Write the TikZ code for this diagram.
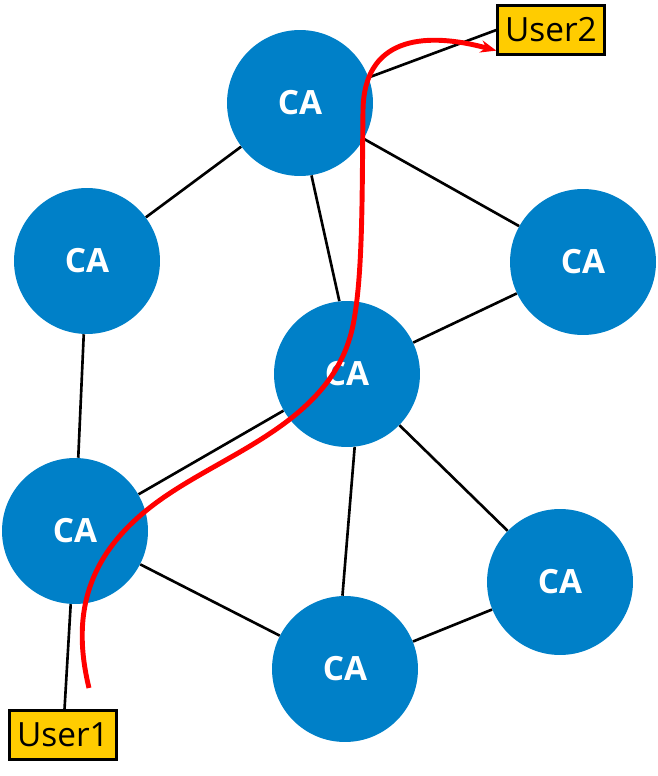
\documentclass[tikz,border=0pt]{standalone}
\usepackage{fontspec}
\setmainfont{Open Sans}
\usetikzlibrary{arrows.meta}
\definecolor{CABlue}{HTML}{0080C8}
\definecolor{UserGold}{HTML}{FFCC00}
\definecolor{PathRed}{HTML}{FF0000}

\begin{document}
\begin{tikzpicture}[
	x=0.02cm, y=-0.02cm,
	ca/.style={circle, fill=CABlue, text=white, font=\fontsize{19}{22}\selectfont\bfseries, minimum size=2.92cm, inner sep=0pt},
	user/.style={draw=black, fill=UserGold, line width=1.3pt, minimum width=2.14cm, minimum height=0.98cm, inner sep=0pt, font=\fontsize{19}{22}\selectfont},
	edge/.style={draw=black, line width=1.5pt},
	route/.style={-{Stealth[length=9pt,width=7pt]}, draw=PathRed, line width=2.8pt}
]
\useasboundingbox (0,0) rectangle (657,776);

\node[ca] (catop) at (300,103) {CA};
\node[ca] (caleft) at (87,261) {CA};
\node[ca] (caright) at (583,262) {CA};
\node[ca] (camid) at (347,374) {CA};
\node[ca] (calowleft) at (75,531) {CA};
\node[ca] (cabottom) at (345,669) {CA};
\node[ca] (calowright) at (560,582) {CA};

\node[user] (user1) at (63,735) {User1};
\node[user] (user2) at (551,30) {User2};

\draw[edge] (catop) -- (caleft);
\draw[edge] (catop) -- (caright);
\draw[edge] (catop.-81) -- (camid.96);
\draw[edge] (catop) -- (user2.west);
\draw[edge] (caleft) -- (calowleft);
\draw[edge] (camid) -- (caright);
\draw[edge] (camid) -- (calowleft);
\draw[edge] (camid.-84) -- (cabottom.92);
\draw[edge] (camid) -- (calowright);
\draw[edge] (calowleft) -- (cabottom);
\draw[edge] (cabottom) -- (calowright);
\draw[edge] (calowleft) -- (user1);

% route from User1 to User2
\coordinate (start) at (89,688);
\draw[route] (start) .. controls (70,610) and (90,550) .. (160,500)
	.. controls (230,450) and (337,420) .. (354,320)
	.. controls (363,270) and (362,190) .. (363,110)
	.. controls (364,40) and (420,30) .. ([yshift=0.1cm]user2.south west);
\end{tikzpicture}
\end{document}
